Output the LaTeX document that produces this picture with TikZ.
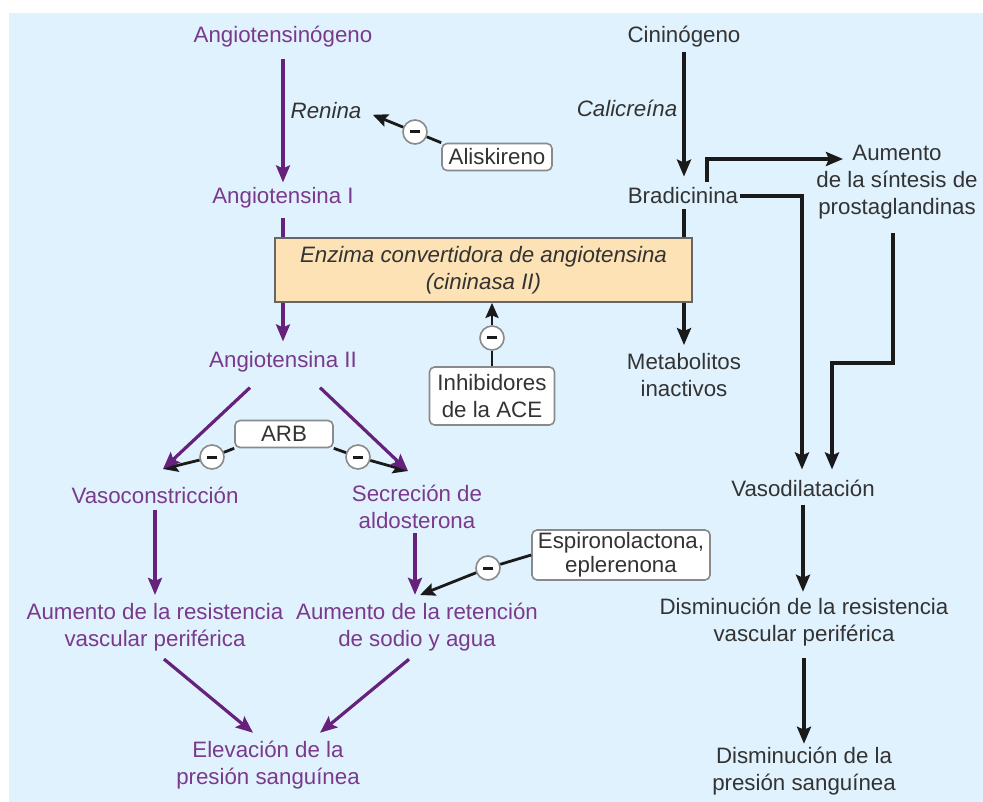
\documentclass[tikz,border=0pt]{standalone}
\usepackage{fontspec}
\setmainfont{Liberation Sans}
\usetikzlibrary{arrows.meta,calc}
\definecolor{bgblue}{HTML}{E0F2FD}
\definecolor{ptext}{HTML}{7A3A8C}
\definecolor{parrow}{HTML}{66217C}
\definecolor{dtext}{HTML}{333333}
\definecolor{dline}{HTML}{1A1A1A}
\definecolor{boxline}{HTML}{8A8A8A}
\definecolor{enzfill}{HTML}{FCE2B4}
\definecolor{enzline}{HTML}{666666}
\begin{document}
\begin{tikzpicture}[x=1pt,y=-1pt,
  lbl/.style={font=\fontsize{22.3}{27}\selectfont, align=center, inner sep=2pt},
  ptxt/.style={lbl,text=ptext},
  dtxt/.style={lbl,text=dtext},
  itxt/.style={lbl,text=dtext,font=\fontsize{22.3}{27}\selectfont\itshape},
  drugbox/.style={lbl,text=dtext,draw=boxline,line width=1.6pt,fill=white,rounded corners=5pt},
  enz/.style={itxt,draw=enzline,fill=enzfill,line width=1.8pt},
  minus/.style={circle,draw=boxline,line width=1.6pt,fill=white,minimum size=24pt,inner sep=0pt,text=dline},
  ptip/.style={-{Stealth[length=17pt,width=14pt,inset=3pt]}},
  btip/.style={-{Stealth[length=17pt,width=14pt,inset=3pt]}},
  pline/.style={draw=parrow,line width=3.2pt},
  parr/.style={pline,ptip},
  bline/.style={draw=dline,line width=4pt},
  barr/.style={bline,btip},
  inhl/.style={draw=dline,line width=2.8pt},
  inha/.style={inhl,-{Stealth[length=15pt,width=13pt,inset=2.5pt]}},
]
\useasboundingbox (0,0) rectangle (983,802);
\fill[bgblue] (9,13) rectangle (983,802);

% nodes
\node[ptxt] (ango) at (283,37) {Angiotensinógeno};
\node[dtxt] (cino) at (684,37) {Cininógeno};
\node[itxt] (renina) at (326,111) {Renina};
\node[itxt] (calic) at (627,108) {Calicreína};
\node[drugbox, minimum width=110pt, minimum height=27pt] (alisk) at (497,157) {Aliskireno};
\node[minus] (m1) at (415,132) {\rule{10pt}{3pt}};
\node[ptxt] (ang1) at (283,198) {Angiotensina I};
\node[dtxt] (brad) at (683,196) {Bradicinina};
\node[dtxt] (aum) at (897,182) {Aumento\\de la síntesis de\\prostaglandinas};
\node[enz, minimum width=417pt, minimum height=64pt] (ece) at (483.5,270) {Enzima convertidora de angiotensina\\(cininasa II)};
\node[ptxt] (ang2) at (283,362) {Angiotensina II};
\node[dtxt] (metab) at (684,375) {Metabolitos\\inactivos};
\node[drugbox, minimum width=125pt, minimum height=58pt] (inh) at (492,396) {Inhibidores\\de la ACE};
\node[minus] (m2) at (492,338) {\rule{10pt}{3pt}};
\node[drugbox, minimum width=98pt, minimum height=27pt] (arb) at (284,434) {ARB};
\node[minus] (m3) at (212,457) {\rule{10pt}{3pt}};
\node[minus] (m4) at (358,457) {\rule{10pt}{3pt}};
\node[ptxt] (vasoc) at (155,495) {Vasoconstricción};
\node[ptxt] (secr) at (417,507) {Secreción de\\aldosterona};
\node[dtxt] (vasod) at (803,488) {Vasodilatación};
\node[drugbox, minimum width=178pt, minimum height=50pt, font=\fontsize{22.3}{24}\selectfont] (espi) at (621,555) {Espironolactona,\\eplerenona};
\node[minus] (m5) at (488,568) {\rule{10pt}{3pt}};
\node[ptxt] (aumres) at (155,627) {Aumento de la resistencia\\vascular periférica};
\node[ptxt] (aumret) at (417,627) {Aumento de la retención\\de sodio y agua};
\node[dtxt] (disres) at (804,622) {Disminución de la resistencia\\vascular periférica};
\node[ptxt] (elev) at (268,765) {Elevación de la\\presión sanguínea};
\node[dtxt] (dispres) at (804,771) {Disminución de la\\presión sanguínea};

\coordinate (aumin) at (843,159);
\coordinate (vctip) at (163,469);
\coordinate (sctip) at (408,471);
\coordinate (rttip) at (420,595);

% purple main chain
\draw[parr, shorten <=9pt, shorten >=3pt] (ango.south) -- (ango.south |- ang1.north);
\draw[pline, shorten <=7pt] (ang1.south) -- (ang1.south |- ece.north);
\draw[parr, shorten >=8pt] (ang1.south |- ece.south) -- (ang1.south |- ang2.north);

% black kinin chain
\draw[barr, shorten <=2pt, shorten >=9pt] (cino.south) -- (cino.south |- brad.north);
\draw[bline, shorten <=3pt] (cino.south |- brad.south) -- (cino.south |- ece.north);
\draw[barr, shorten >=6pt] (cino.south |- ece.south) -- (cino.south |- metab.north);

\draw[barr] ([xshift=24pt,yshift=4pt]brad.north) |- (aumin);
\draw[barr, shorten >=8pt] (brad.east) -| ([xshift=-1pt]vasod.north);
\draw[barr, shorten <=12pt, shorten >=8pt] ([xshift=-4pt]aum.south) -- ++(0,142) -| ([xshift=29pt]vasod.north);
\draw[barr, shorten <=6pt, shorten >=4pt] (vasod.south) -- (vasod.south |- disres.north);
\draw[barr, shorten <=10pt, shorten >=1pt] (disres.south) -- (disres.south |- dispres.north);

% inhibitors
\draw[inhl] (alisk.north west) -- (m1);
\draw[inha, shorten >=10pt] (m1) -- (renina.east);
\draw[inhl] (inh) -- (m2);
\draw[inha] (m2) -- (m2 |- ece.south);
\draw[inhl] (arb.south west) -- (m3);
\draw[inha] (m3) -- (vctip);
\draw[inhl] (arb.south east) -- (m4);
\draw[inha] (m4) -- (sctip);
\draw[inhl] (espi.west) -- (m5);
\draw[inha] (m5) -- (rttip);

% purple lower part
\draw[parr] ([shift={(-33,13)}]ang2.south) -- (vctip);
\draw[parr] ([shift={(37,13)}]ang2.south) -- (sctip);
\draw[parr, shorten <=4pt, shorten >=6pt] (vasoc.south) -- (vasoc.south |- aumres.north);
\draw[parr, shorten <=2pt, shorten >=6pt] ([xshift=-2pt]secr.south) -- ([xshift=-2pt]secr.south |- aumret.north);
\draw[parr] ([shift={(9,6)}]aumres.south) -- ([shift={(-15,-6)}]elev.north);
\draw[parr] ([shift={(-8,6)}]aumret.south) -- ([shift={(52,-6)}]elev.north);
\end{tikzpicture}
\end{document}
